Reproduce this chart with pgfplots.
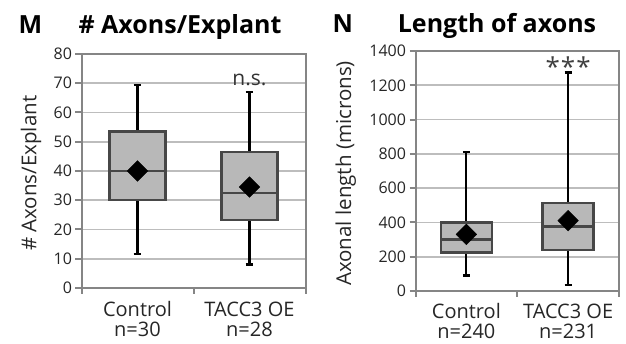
\documentclass[border=0pt]{standalone}
\usepackage{pgfplots}
\pgfplotsset{compat=1.18}
\usepackage{fontspec}
\setmainfont{Open Sans}
\definecolor{boxfill}{gray}{0.72}
\definecolor{boxedge}{gray}{0.28}
\definecolor{gridc}{gray}{0.74}
\definecolor{framec}{gray}{0.52}
\pgfplotsset{
  panel/.style={
    scale only axis,
    xmin=0.5, xmax=2.5,
    axis line style={framec, line width=2pt},
    ymajorgrids,
    major grid style={gridc, line width=1.8pt},
    xtick={0.5,1.5,2.5}, xticklabels={},
    tick align=outside, xtick pos=bottom, ytick pos=left,
    tick style={framec, line width=2pt},
    major tick length=6pt,
    extra x tick style={major tick length=0pt, grid=none},
    yticklabel style={font=\fontsize{16}{16}\selectfont, color=black!85},
    xticklabel style={font=\fontsize{20}{20}\selectfont, align=center, color=black!85},
    ylabel style={font=\fontsize{20.5}{20}\selectfont, color=black!85, anchor=center},
    /pgf/number format/assume math mode=true,
    /pgf/number format/1000 sep={},
    scaled y ticks=false,
  },
  boxst/.style={fill=boxfill, draw=boxedge, line width=2.4pt, mark=none, line join=miter},
  medst/.style={draw=boxedge, line width=2.6pt, mark=none},
  whst/.style={draw=black, line width=2.2pt, mark=none},
  meanmark/.style={only marks, mark=square*, mark size=7.3pt,
    mark options={rotate=45, fill=black, draw=black}},
}
\begin{document}
\begin{tikzpicture}
\useasboundingbox (0,0) rectangle (626pt,344pt);
% Panel M
\begin{axis}[panel,
  at={(81.5pt,56pt)}, anchor=south west,
  width=224pt, height=234pt,
  ymin=0, ymax=80, ytick={0,10,...,80},
  extra x ticks={1,2},
  extra x tick labels={{Control\\n=30},{TACC3 OE\\n=28}},
  extra x tick style={major tick length=0pt, grid=none, xticklabel style={yshift=-10pt}},
  ylabel={\# Axons/Explant},
  ylabel style={at={(axis description cs:-0.225,0.49)}},
]
% Control
\addplot[whst] coordinates {(1,11.5) (1,30)};
\addplot[whst] coordinates {(1,53.5) (1,69.5)};
\addplot[whst] coordinates {(0.965,11.5) (1.035,11.5)};
\addplot[whst] coordinates {(0.965,69.5) (1.035,69.5)};
\addplot[boxst] coordinates {(0.75,30) (1.25,30) (1.25,53.5) (0.75,53.5)} -- cycle;
\addplot[medst] coordinates {(0.75,40) (1.25,40)};
% TACC3 OE
\addplot[whst] coordinates {(2,8) (2,23.3)};
\addplot[whst] coordinates {(2,46.5) (2,67)};
\addplot[whst] coordinates {(1.965,8) (2.035,8)};
\addplot[whst] coordinates {(1.965,67) (2.035,67)};
\addplot[boxst] coordinates {(1.75,23.3) (2.25,23.3) (2.25,46.5) (1.75,46.5)} -- cycle;
\addplot[medst] coordinates {(1.75,32.5) (2.25,32.5)};
\addplot[meanmark] coordinates {(1,40) (2,34.5)};
\node[font=\fontsize{21}{21}\selectfont, color=black!80] at (axis cs:2,71.3) {n.s.};
\end{axis}
% Panel N
\begin{axis}[panel,
  at={(415.5pt,53pt)}, anchor=south west,
  width=203.5pt, height=240pt,
  ymin=0, ymax=1400, ytick={0,200,...,1400},
  extra x ticks={1,2},
  extra x tick labels={{Control\\n=240},{TACC3 OE\\n=231}},
  extra x tick style={major tick length=0pt, grid=none, xticklabel style={yshift=-9pt}},
  ylabel={Axonal length (microns)},
  ylabel style={at={(axis description cs:-0.342,0.49)}},
]
% Control
\addplot[whst] coordinates {(1,90) (1,225)};
\addplot[whst] coordinates {(1,400) (1,810)};
\addplot[whst] coordinates {(0.965,90) (1.035,90)};
\addplot[whst] coordinates {(0.965,810) (1.035,810)};
\addplot[boxst] coordinates {(0.75,225) (1.25,225) (1.25,400) (0.75,400)} -- cycle;
\addplot[medst] coordinates {(0.75,300) (1.25,300)};
% TACC3 OE
\addplot[whst] coordinates {(2,35) (2,240)};
\addplot[whst] coordinates {(2,515) (2,1275)};
\addplot[whst] coordinates {(1.965,35) (2.035,35)};
\addplot[whst] coordinates {(1.965,1275) (2.035,1275)};
\addplot[boxst] coordinates {(1.75,240) (2.25,240) (2.25,515) (1.75,515)} -- cycle;
\addplot[medst] coordinates {(1.75,375) (2.25,375)};
\addplot[meanmark] coordinates {(1,330) (2,410)};
\node[font=\fontsize{26}{26}\selectfont, color=black!75] at (axis cs:2,1310) {*\kern1pt*\kern1pt*};
\end{axis}
% Titles
\node[anchor=base west, font=\fontsize{25}{28}\selectfont\bfseries] at (15pt,310pt) {M};
\node[anchor=base, font=\fontsize{25}{28}\selectfont\bfseries] at (180pt,310pt) {\# Axons/Explant};
\node[anchor=base west, font=\fontsize{25}{28}\selectfont\bfseries] at (329pt,311pt) {N};
\node[anchor=base, font=\fontsize{25}{28}\selectfont\bfseries] at (497pt,311pt) {Length of axons};
\end{tikzpicture}
\end{document}
